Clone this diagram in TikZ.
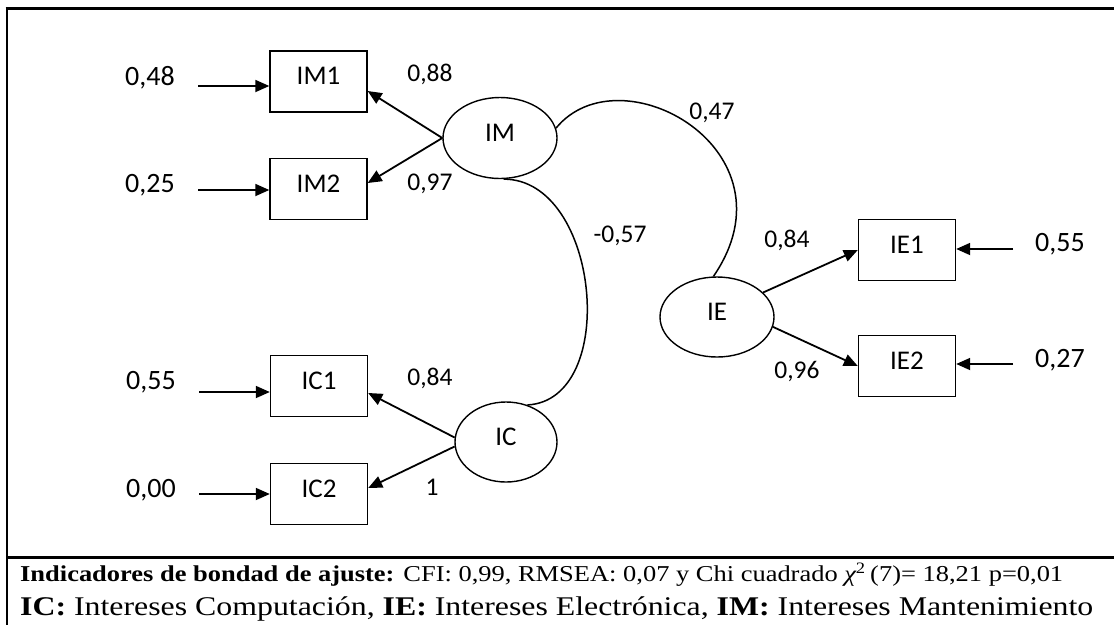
\documentclass[tikz,border=0pt]{standalone}
\usepackage{fontspec}
\setmainfont{Carlito}
\newfontfamily\tnr{Liberation Serif}
\usetikzlibrary{arrows.meta,shapes.geometric,calc}
\begin{document}
\begin{tikzpicture}[x=1pt,y=-1pt,
  obs/.style={draw,line width=1.4pt,minimum width=97pt,minimum height=61pt,inner sep=0pt,
    font=\fontsize{27}{27}\selectfont,text height=0.64em,text depth=0pt},
  lat/.style={draw,ellipse,line width=1.4pt,inner sep=0pt,minimum width=114pt,minimum height=81pt,
    font=\fontsize{27}{27}\selectfont,text height=0.64em,text depth=0pt},
  errlab/.style={inner sep=0pt,font=\fontsize{28}{28}\selectfont,text height=0.64em,text depth=0pt},
  loadlab/.style={inner sep=0pt,font=\fontsize{25.5}{25.5}\selectfont,text height=0.64em,text depth=0pt},
  arr/.style={line width=1.8pt,-{Triangle[length=14pt,width=12pt]}},
  cov/.style={line width=1.5pt},
  frameline/.style={line width=3pt}
]
\useasboundingbox (0,0) rectangle (1114,625);

% frame
\coordinate (fTL) at (7,8);
\coordinate (fTR) at (1114,8);
\coordinate (fBL) at (7,625);
\coordinate (sL) at (7,557.7);
\coordinate (sR) at (1114,557.7);
\draw[frameline] (5.5,8) -- (fTR);
\draw[line width=2.2pt] (fTL) -- (fBL);
\draw[frameline] (sL) -- (sR);

% observed variables
\node[obs] (IM1) at (318.5,81.5) {IM1};
\node[obs] (IM2) at (318.5,189) {IM2};
\node[obs] (IC1) at (319,386) {IC1};
\node[obs] (IC2) at (319,494) {IC2};
\node[obs] (IE1) at (907,250) {IE1};
\node[obs] (IE2) at (907,366) {IE2};

% latent variables
\node[lat] (IM) at (500,138) {IM};
\node[lat,minimum width=102pt,minimum height=80pt] (IC) at (506,442) {IC};
\node[lat,minimum height=80pt] (IE) at (717,317) {IE};

% error terms
\node[errlab] (e1) at (150,82) {0,48};
\node[errlab] (e2) at (150,189) {0,25};
\node[errlab] (e3) at (151,386) {0,55};
\node[errlab] (e4) at (151,494) {0,00};
\node[errlab] (e5) at (1060,248) {0,55};
\node[errlab] (e6) at (1060,364) {0,27};

\coordinate (s1) at (198,86);
\coordinate (s2) at (198,190);
\coordinate (s3) at (199,392);
\coordinate (s4) at (199,494);
\coordinate (s5) at (1013,249);
\coordinate (s6) at (1013,364);
\draw[arr] (s1) -- (s1 -| IM1.west);
\draw[arr] (s2) -- (s2 -| IM2.west);
\draw[arr] (s3) -- (s3 -| IC1.west);
\draw[arr] (s4) -- (s4 -| IC2.west);
\draw[arr] (s5) -- (s5 -| IE1.east);
\draw[arr] (s6) -- (s6 -| IE2.east);

% loadings
\draw[arr] (IM.west) -- ([yshift=-9.5pt]IM1.east);
\draw[arr] (IM.west) -- ([yshift=6pt]IM2.east);
\draw[arr] (IC.175) -- ([yshift=-7pt]IC1.east);
\draw[arr] (IC.185) -- ([yshift=6pt]IC2.east);
\draw[arr] (IE.28) -- (IE1.west);
\draw[arr] (IE.-10) -- (IE2.west);

\node[loadlab] (l1) at (430,78) {0,88};
\node[loadlab] (l2) at (430,187) {0,97};
\node[loadlab] (l3) at (430,382) {0,84};
\node[loadlab] (l4) at (432,492) {1};
\node[loadlab] (l5) at (787,244) {0,84};
\node[loadlab] (l6) at (797,375) {0,96};

% covariances
\draw[cov] (IM.10) .. controls (620,50) and (800,150) .. (IE.95);
\draw[cov] (IM.-85) .. controls (600,179) and (620,400) .. (IC.60);
\node[loadlab] (c1) at (712,116) {0,47};
\node[loadlab] (c2) at (620,239) {-0,57};

% footer text
\node[anchor=base west,inner sep=0pt] (t1) at (20,581.5)
  {\tnr\fontsize{22.7}{27}\selectfont\resizebox{1043pt}{\height}{\textbf{Indicadores de bondad de ajuste:} CFI: 0,99, RMSEA: 0,07 y Chi cuadrado {\itshape χ}\textsuperscript{2}\,(7)= 18,21 p=0,01}};
\node[anchor=base west,inner sep=0pt] (t2) at (20,615)
  {\tnr\fontsize{27}{30}\selectfont\resizebox{1073pt}{\height}{\textbf{IC:} Intereses Computación, \textbf{IE:} Intereses Electrónica, \textbf{IM:} Intereses Mantenimiento}};
\end{tikzpicture}
\end{document}
